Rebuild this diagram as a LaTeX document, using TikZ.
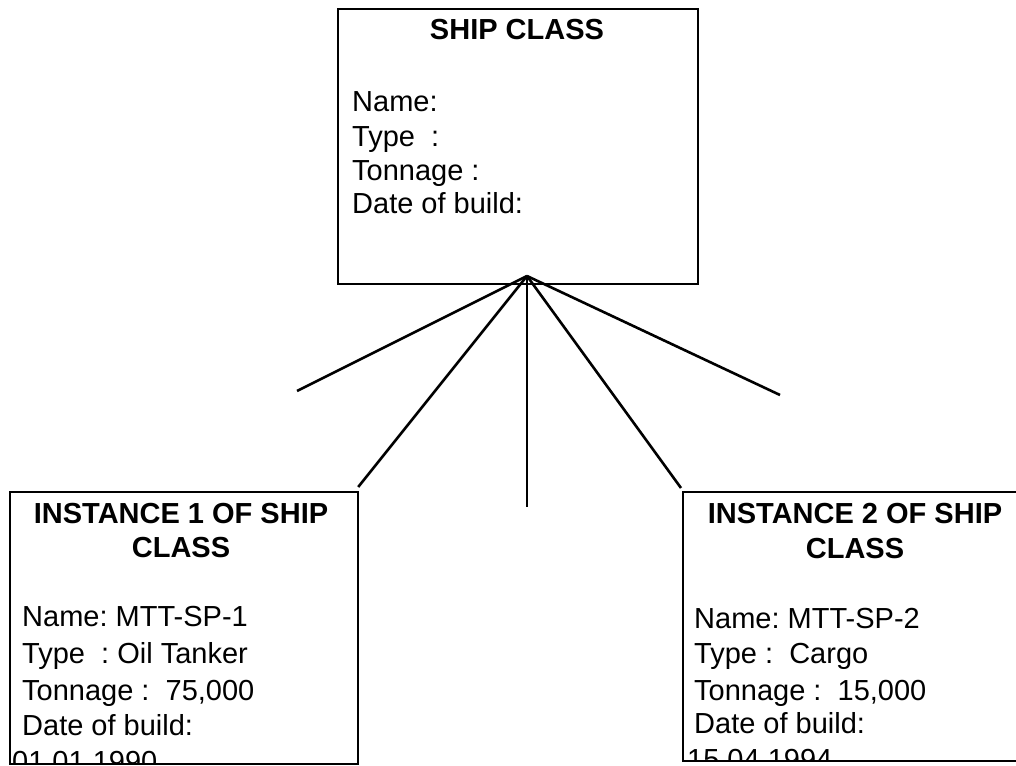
\documentclass[tikz,border=0pt]{standalone}
\usepackage{fontspec}
\setmainfont{Liberation Sans}
\frenchspacing
\begin{document}
\begin{tikzpicture}[x=1pt,y=-1pt,
  box/.style={draw,line width=2.2pt,rectangle,inner sep=0pt,anchor=north west},
  fan/.style={line width=2.6pt},
  title/.style={font=\fontsize{29}{34}\bfseries\selectfont,inner sep=0pt,anchor=base},
  field/.style={font=\fontsize{29}{34}\selectfont,inner sep=0pt,anchor=base west}]
\useasboundingbox (0,0) rectangle (1016,765);
\clip (0,0) rectangle (1016,765);
% top box
\node[box,minimum width=360pt,minimum height=275pt] (top) at (337,8) {};
\node[title] (ttitle) at (517,40) {SHIP CLASS};
\node[field] (tname) at (352,112) {Name:};
\node[field] (ttype) at (352,146) {Type\ \ :};
\node[field] (tton) at (352,180) {Tonnage :};
\node[field] (tdate) at (352,213) {Date of build:};
% instance boxes
\node[box,minimum width=348pt,minimum height=272pt] (inst1) at (9,491) {};
\node[box,minimum width=348pt,minimum height=269pt] (inst2) at (682,491) {};
\begin{scope}
\clip (10,492) rectangle (356,762);
\node[title] (i1t1) at (181,523) {INSTANCE 1 OF SHIP};
\node[title] (i1t2) at (181,557) {CLASS};
\node[field] (i1name) at (22,626) {Name: MTT-SP-1};
\node[field] (i1type) at (22,663) {Type\ \ : Oil Tanker};
\node[field] (i1ton) at (22,700) {Tonnage :\ \ 75,000};
\node[field] (i1date) at (22,735) {Date of build:};
\node[field] (i1d) at (12,771) {01 01 1990};
\end{scope}
\begin{scope}
\clip (683,492) rectangle (1029,759);
\node[title] (i2t1) at (855,523) {INSTANCE 2 OF SHIP};
\node[title] (i2t2) at (855,558) {CLASS};
\node[field] (i2name) at (694,628) {Name: MTT-SP-2};
\node[field] (i2type) at (694,663) {Type :\ \ Cargo};
\node[field] (i2ton) at (694,700) {Tonnage :\ \ 15,000};
\node[field] (i2date) at (694,733) {Date of build:};
\node[field] (i2d) at (687,769) {15 04 1994};
\end{scope}
% fan of connectors
\coordinate (apex) at (527,276);
\coordinate (farL) at (297,391);
\coordinate (mid) at (527,507);
\coordinate (farR) at (780,395);
\draw[fan] (apex) -- (farL);
\draw[fan] (apex) -- ([shift={(-1,-4)}]inst1.north east);
\draw[fan] (apex) -- (mid);
\draw[fan] (apex) -- ([shift={(-1,-3)}]inst2.north west);
\draw[fan] (apex) -- (farR);
\end{tikzpicture}
\end{document}
